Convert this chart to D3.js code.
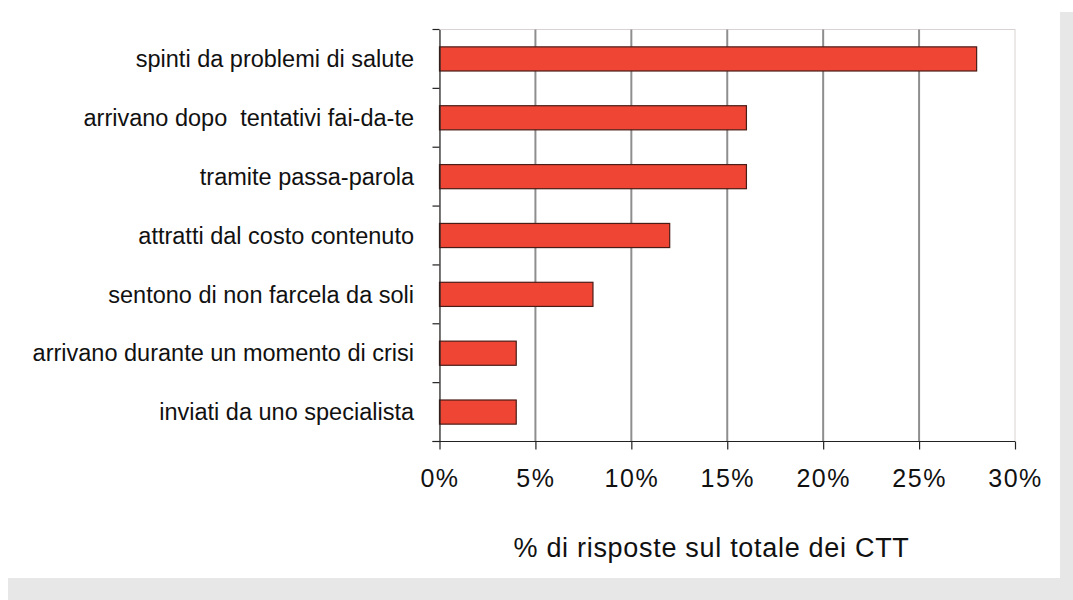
<!DOCTYPE html>
<html><head><meta charset="utf-8">
<script src="https://cdn.jsdelivr.net/npm/d3@7"></script>
<style>body{margin:0;background:#fff}svg{display:block}</style>
</head><body>
<svg id="c" width="1073" height="600"></svg>
<script>
const categories = ["spinti da problemi di salute","arrivano dopo  tentativi fai-da-te","tramite passa-parola","attratti dal costo contenuto","sentono di non farcela da soli","arrivano durante un momento di crisi","inviati da uno specialista"];
const values = [28,16,16,12,8,4,4];
const tickValues = [0,5,10,15,20,25,30];
const axisTitle = "% di risposte sul totale dei CTT";

const FONT = "Liberation Sans, Arial, sans-serif";
const svg = d3.select("#c");
// frame shadow
svg.append("rect").attr("x",8).attr("y",12).attr("width",1065).attr("height",588).attr("fill","#e6e7e6");
svg.append("rect").attr("x",0).attr("y",0).attr("width",1060).attr("height",578).attr("fill","#fff");

const m = {l:439.5, r:1015, t:29.5, b:441.5};
const x = d3.scaleLinear().domain([0,30]).range([m.l,m.r]);
const y = d3.scaleBand().domain(categories).range([m.t,m.b]).paddingInner(0.59).paddingOuter(0.295);
const band = d3.scaleBand().domain(categories).range([m.t,m.b]);

// plot border
svg.append("rect").attr("x",m.l).attr("y",m.t).attr("width",m.r-m.l).attr("height",m.b-m.t)
  .attr("fill","none").attr("stroke","#d9d2d2").attr("stroke-width",1);

// gridlines
svg.append("g").selectAll("line").data(tickValues.filter(d=>d>0&&d<30)).join("line")
  .attr("x1",d=>x(d)).attr("x2",d=>x(d)).attr("y1",m.t).attr("y2",m.b)
  .attr("stroke","#8e8e8e").attr("stroke-width",2);

// bars
svg.append("g").selectAll("rect").data(values).join("rect")
  .attr("x",x(0)).attr("y",(d,i)=>y(categories[i]))
  .attr("width",d=>x(d)-x(0)).attr("height",y.bandwidth())
  .attr("fill","#ee4535").attr("stroke","#4a1c16").attr("stroke-width",1.2);

// y axis
const yAxis = d3.axisLeft(band).tickSize(0).tickFormat("");
const gy = svg.append("g").attr("transform",`translate(${m.l},0)`).call(yAxis);
gy.select(".domain").attr("stroke","#222").attr("stroke-width",1.2);
const bounds = categories.map(c=>band(c)).concat([m.b]);
svg.append("g").selectAll("line").data(bounds).join("line")
  .attr("x1",m.l-7).attr("x2",m.l).attr("y1",d=>d).attr("y2",d=>d)
  .attr("stroke","#222").attr("stroke-width",1.2);
// labels
svg.append("g").selectAll("text").data(categories).join("text")
  .attr("x",414).attr("y",c=>band(c)+band.bandwidth()/2).attr("dy","0.35em")
  .attr("text-anchor","end").attr("font-family",FONT)
  .attr("font-size",23.5).attr("fill","#111").style("white-space","pre").text(d=>d);

// x axis
const xAxis = d3.axisBottom(x).tickValues(tickValues).tickSize(8).tickPadding(20).tickFormat(d=>d+"%");
const gx = svg.append("g").attr("transform",`translate(0,${m.b})`).call(xAxis);
gx.select(".domain").attr("stroke","#222").attr("stroke-width",1.2).attr("d",`M${m.l-7},0H${m.r}`);
gx.selectAll(".tick line").attr("stroke","#222").attr("stroke-width",1.2);
gx.selectAll(".tick text").attr("font-family",FONT).attr("font-size",25).attr("letter-spacing",1.5).attr("fill","#111");

svg.append("text").attr("x",711.5).attr("y",557).attr("text-anchor","middle")
  .attr("font-family",FONT).attr("font-size",27).attr("letter-spacing",0.7).attr("fill","#111")
  .text(axisTitle);
</script>
</body></html>
